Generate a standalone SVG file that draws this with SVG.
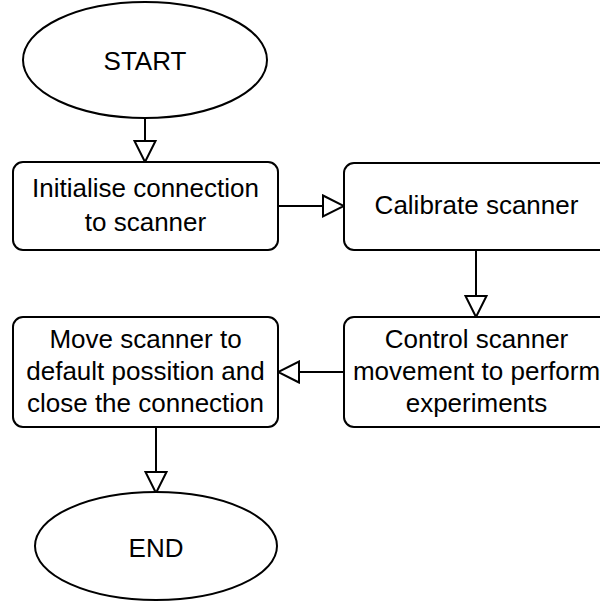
<svg xmlns="http://www.w3.org/2000/svg" width="600" height="603" viewBox="0 0 600 603">
  <style>
    .shape { fill: #ffffff; stroke: #000000; stroke-width: 2; }
    .label { font-family: Helvetica, "Liberation Sans", Arial, sans-serif; font-size: 26px; fill: #000000; text-anchor: middle; }
    .edge { fill: none; stroke: #000000; stroke-width: 2; marker-end: url(#open-arrow); }
  </style>
  <defs>
    <marker id="open-arrow" markerUnits="userSpaceOnUse" viewBox="-2 -2 25 25" refX="21" refY="10.5" markerWidth="25" markerHeight="25" orient="auto">
      <path d="M0,0 L21,10.5 L0,21 Z" fill="#ffffff" stroke="#000000" stroke-width="2" stroke-linejoin="miter"/>
    </marker>
  </defs>
  <rect width="600" height="603" fill="#ffffff"/>

  <!-- connectors -->
  <g id="connectors">
    <path class="edge" d="M145,118 L145,162"/>
    <path class="edge" d="M278,206 L344,206"/>
    <path class="edge" d="M476,250 L476,317"/>
    <path class="edge" d="M344,372 L278,372"/>
    <path class="edge" d="M156,427 L156,493"/>
  </g>

  <!-- nodes -->
  <g id="start">
    <ellipse class="shape" cx="145" cy="60" rx="122" ry="58"/>
    <text class="label" x="145" y="70">START</text>
  </g>

  <g id="init-connection">
    <rect class="shape" x="13" y="162" width="265" height="88" rx="10" ry="10"/>
    <text class="label" x="145.5" y="197">Initialise connection</text>
    <text class="label" x="145.5" y="231">to scanner</text>
  </g>

  <g id="calibrate">
    <rect class="shape" x="344" y="163" width="265" height="87" rx="10" ry="10"/>
    <text class="label" x="476.5" y="214">Calibrate scanner</text>
  </g>

  <g id="control-movement">
    <rect class="shape" x="344" y="317" width="265" height="110" rx="10" ry="10"/>
    <text class="label" x="476.5" y="348">Control scanner</text>
    <text class="label" x="476.5" y="380">movement to perform</text>
    <text class="label" x="476.5" y="412">experiments</text>
  </g>

  <g id="move-default">
    <rect class="shape" x="13" y="317" width="265" height="110" rx="10" ry="10"/>
    <text class="label" x="145.5" y="348">Move scanner to</text>
    <text class="label" x="145.5" y="380">default possition and</text>
    <text class="label" x="145.5" y="412">close the connection</text>
  </g>

  <g id="end">
    <ellipse class="shape" cx="156" cy="546" rx="121" ry="54"/>
    <text class="label" x="156" y="557">END</text>
  </g>
</svg>
